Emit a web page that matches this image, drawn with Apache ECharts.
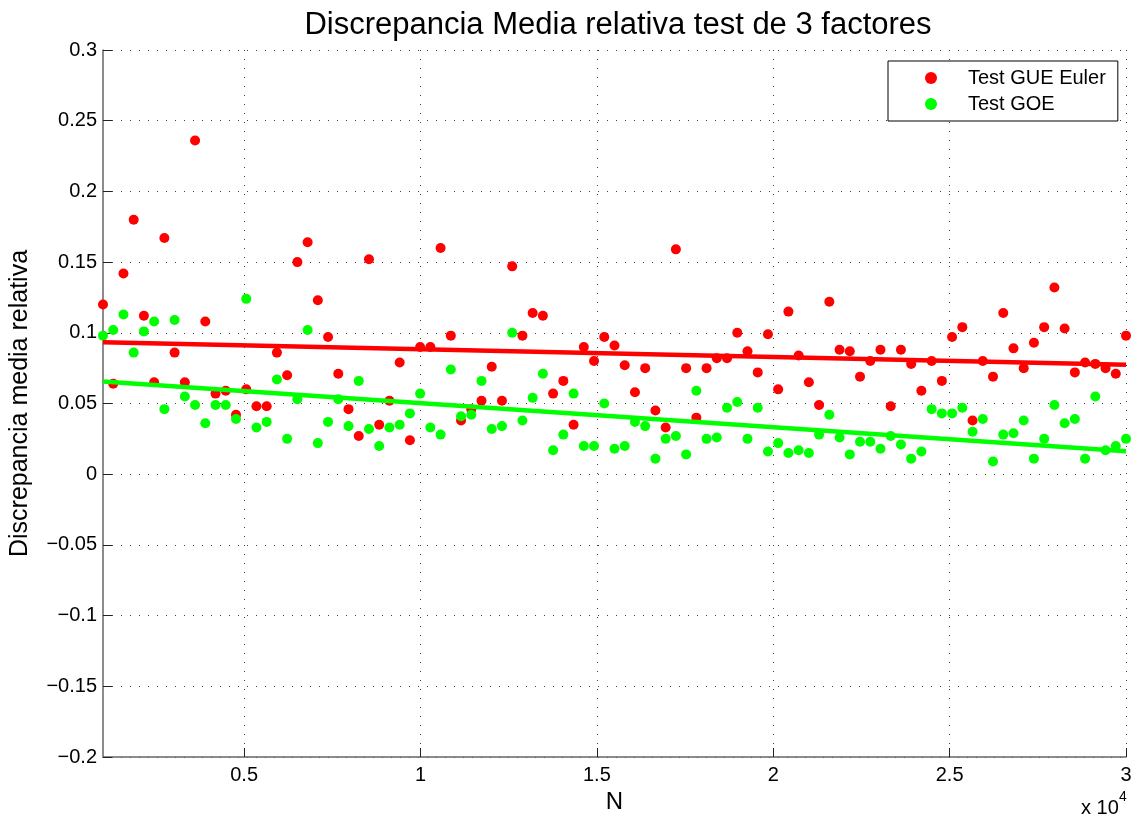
<!DOCTYPE html>
<html>
<head>
<meta charset="utf-8">
<script src="https://cdn.jsdelivr.net/npm/echarts@6/dist/echarts.min.js"></script>
<style>
  html, body { margin: 0; padding: 0; background: #fff; }
  #chart { width: 1138px; height: 822px; }
</style>
</head>
<body>
<div id="chart"></div>
<script>
// Matrix size N for each run
const N = [
  1000, 1290, 1580, 1870, 2160, 2450, 2740, 3030, 3320, 3610,
  3900, 4190, 4480, 4770, 5060, 5350, 5640, 5930, 6220, 6510,
  6800, 7090, 7380, 7670, 7960, 8250, 8540, 8830, 9120, 9410,
  9700, 9990, 10280, 10570, 10860, 11150, 11440, 11730, 12020, 12310,
  12600, 12890, 13180, 13470, 13760, 14050, 14340, 14630, 14920, 15210,
  15500, 15790, 16080, 16370, 16660, 16950, 17240, 17530, 17820, 18110,
  18400, 18690, 18980, 19270, 19560, 19850, 20140, 20430, 20720, 21010,
  21300, 21590, 21880, 22170, 22460, 22750, 23040, 23330, 23620, 23910,
  24200, 24490, 24780, 25070, 25360, 25650, 25940, 26230, 26520, 26810,
  27100, 27390, 27680, 27970, 28260, 28550, 28840, 29130, 29420, 29710,
  30000
];

// Mean relative discrepancy, GUE (Euler) test
const gueEuler = [
  0.120, 0.064, 0.142, 0.180, 0.112, 0.065, 0.167, 0.086, 0.065, 0.236,
  0.108, 0.057, 0.059, 0.042, 0.060, 0.048, 0.048, 0.086, 0.070, 0.150,
  0.164, 0.123, 0.097, 0.071, 0.046, 0.027, 0.152, 0.035, 0.052, 0.079,
  0.024, 0.090, 0.090, 0.160, 0.098, 0.038, 0.046, 0.052, 0.076, 0.052,
  0.147, 0.098, 0.114, 0.112, 0.057, 0.066, 0.035, 0.090, 0.080, 0.097,
  0.091, 0.077, 0.058, 0.075, 0.045, 0.033, 0.159, 0.075, 0.040, 0.075,
  0.082, 0.082, 0.100, 0.087, 0.072, 0.099, 0.060, 0.115, 0.084, 0.065,
  0.049, 0.122, 0.088, 0.087, 0.069, 0.080, 0.088, 0.048, 0.088, 0.078,
  0.059, 0.080, 0.066, 0.097, 0.104, 0.038, 0.080, 0.069, 0.114, 0.089,
  0.075, 0.093, 0.104, 0.132, 0.103, 0.072, 0.079, 0.078, 0.075, 0.071,
  0.098
];

// Mean relative discrepancy, GOE test
const goe = [
  0.098, 0.102, 0.113, 0.086, 0.101, 0.108, 0.046, 0.109, 0.055, 0.049,
  0.036, 0.049, 0.049, 0.039, 0.124, 0.033, 0.037, 0.067, 0.025, 0.053,
  0.102, 0.022, 0.037, 0.053, 0.034, 0.066, 0.032, 0.020, 0.033, 0.035,
  0.043, 0.057, 0.033, 0.028, 0.074, 0.041, 0.042, 0.066, 0.032, 0.034,
  0.100, 0.038, 0.054, 0.071, 0.017, 0.028, 0.057, 0.020, 0.020, 0.050,
  0.018, 0.020, 0.037, 0.034, 0.011, 0.025, 0.027, 0.014, 0.059, 0.025,
  0.026, 0.047, 0.051, 0.025, 0.047, 0.016, 0.022, 0.015, 0.017, 0.015,
  0.028, 0.042, 0.026, 0.014, 0.023, 0.023, 0.018, 0.027, 0.021, 0.011,
  0.016, 0.046, 0.043, 0.043, 0.047, 0.030, 0.039, 0.009, 0.028, 0.029,
  0.038, 0.011, 0.025, 0.049, 0.036, 0.039, 0.011, 0.055, 0.017, 0.020,
  0.025
];

// Linear trend lines (end points)
const fitN = [1000, 30000];
const fitGUE = [0.0934, 0.0774];
const fitGOE = [0.0656, 0.0163];

// Axis ticks
const xTicks = [5000, 10000, 15000, 20000, 25000, 30000];

const FONT = '"Liberation Sans", Arial, Helvetica, sans-serif';
const pairs = (xs, ys) => xs.map((x, i) => [x, ys[i]]);

const dotted = { show: true, lineStyle: { color: '#444', width: 1, type: [1, 8] } };

const chart = echarts.init(document.getElementById('chart'), null, { renderer: 'canvas' });
chart.setOption({
  animation: false,
  backgroundColor: '#ffffff',
  title: {
    text: 'Discrepancia Media relativa test de 3 factores',
    left: 613, top: 5, textAlign: 'center',
    textStyle: { fontFamily: FONT, fontSize: 31, fontWeight: 'normal', color: '#000' }
  },
  grid: { left: 101, right: 12, top: 50, bottom: 65 },
  legend: {
    data: ['Test GUE Euler', 'Test GOE'],
    orient: 'vertical', left: 888, top: 61,
    icon: 'circle', itemWidth: 64, itemHeight: 12, itemGap: 6,
    padding: [7, 12, 7, 37],
    borderColor: '#000', borderWidth: 1, borderRadius: 0, backgroundColor: '#fff',
    itemStyle: { opacity: 1 },
    textStyle: { fontFamily: FONT, fontSize: 20, color: '#000', lineHeight: 20 }
  },
  xAxis: {
    type: 'value', min: 1000, max: 30000,
    name: 'N', nameLocation: 'middle', nameGap: 30,
    nameTextStyle: { fontFamily: FONT, fontSize: 24, color: '#000' },
    axisLine: { show: true, onZero: false, lineStyle: { color: '#666', width: 1.5 } },
    axisTick: { show: true, inside: true, length: 9, customValues: xTicks, lineStyle: { color: '#222', width: 1 } },
    axisLabel: {
      customValues: xTicks, margin: 8,
      fontFamily: FONT, fontSize: 20, color: '#000',
      formatter: v => String(+(v / 10000).toFixed(2))
    },
    splitLine: dotted
  },
  yAxis: {
    type: 'value', min: -0.2, max: 0.3, interval: 0.05,
    name: 'Discrepancia media relativa', nameLocation: 'middle', nameGap: 70,
    nameTextStyle: { fontFamily: FONT, fontSize: 25, color: '#000' },
    axisLine: { show: true, onZero: false, lineStyle: { color: '#666', width: 1.5 } },
    axisTick: { show: true, inside: true, length: 9, lineStyle: { color: '#222', width: 1 } },
    axisLabel: {
      margin: 6, fontFamily: FONT, fontSize: 20, color: '#000',
      formatter: v => String(+v.toFixed(2)).replace('-', '\u2212')
    },
    splitLine: dotted
  },
  graphic: [
    { type: 'text', x: 1081, y: 808, style: { text: 'x 10', font: '20px ' + FONT, fill: '#000', verticalAlign: 'middle' } },
    { type: 'text', x: 1119, y: 797, style: { text: '4', font: '14px ' + FONT, fill: '#000', verticalAlign: 'middle' } }
  ],
  series: [
    {
      name: 'Test GUE Euler', type: 'scatter', symbol: 'circle', symbolSize: 10,
      itemStyle: { color: '#ff0000', opacity: 1 }, data: pairs(N, gueEuler), z: 3
    },
    {
      name: 'Test GOE', type: 'scatter', symbol: 'circle', symbolSize: 10,
      itemStyle: { color: '#00ff00', opacity: 1 }, data: pairs(N, goe), z: 3
    },
    {
      name: 'fit GUE', type: 'line', showSymbol: false, symbol: 'none',
      lineStyle: { color: '#ff0000', width: 4.5 }, data: pairs(fitN, fitGUE), z: 4
    },
    {
      name: 'fit GOE', type: 'line', showSymbol: false, symbol: 'none',
      lineStyle: { color: '#00ff00', width: 4.5 }, data: pairs(fitN, fitGOE), z: 4
    }
  ]
});
</script>
</body>
</html>
